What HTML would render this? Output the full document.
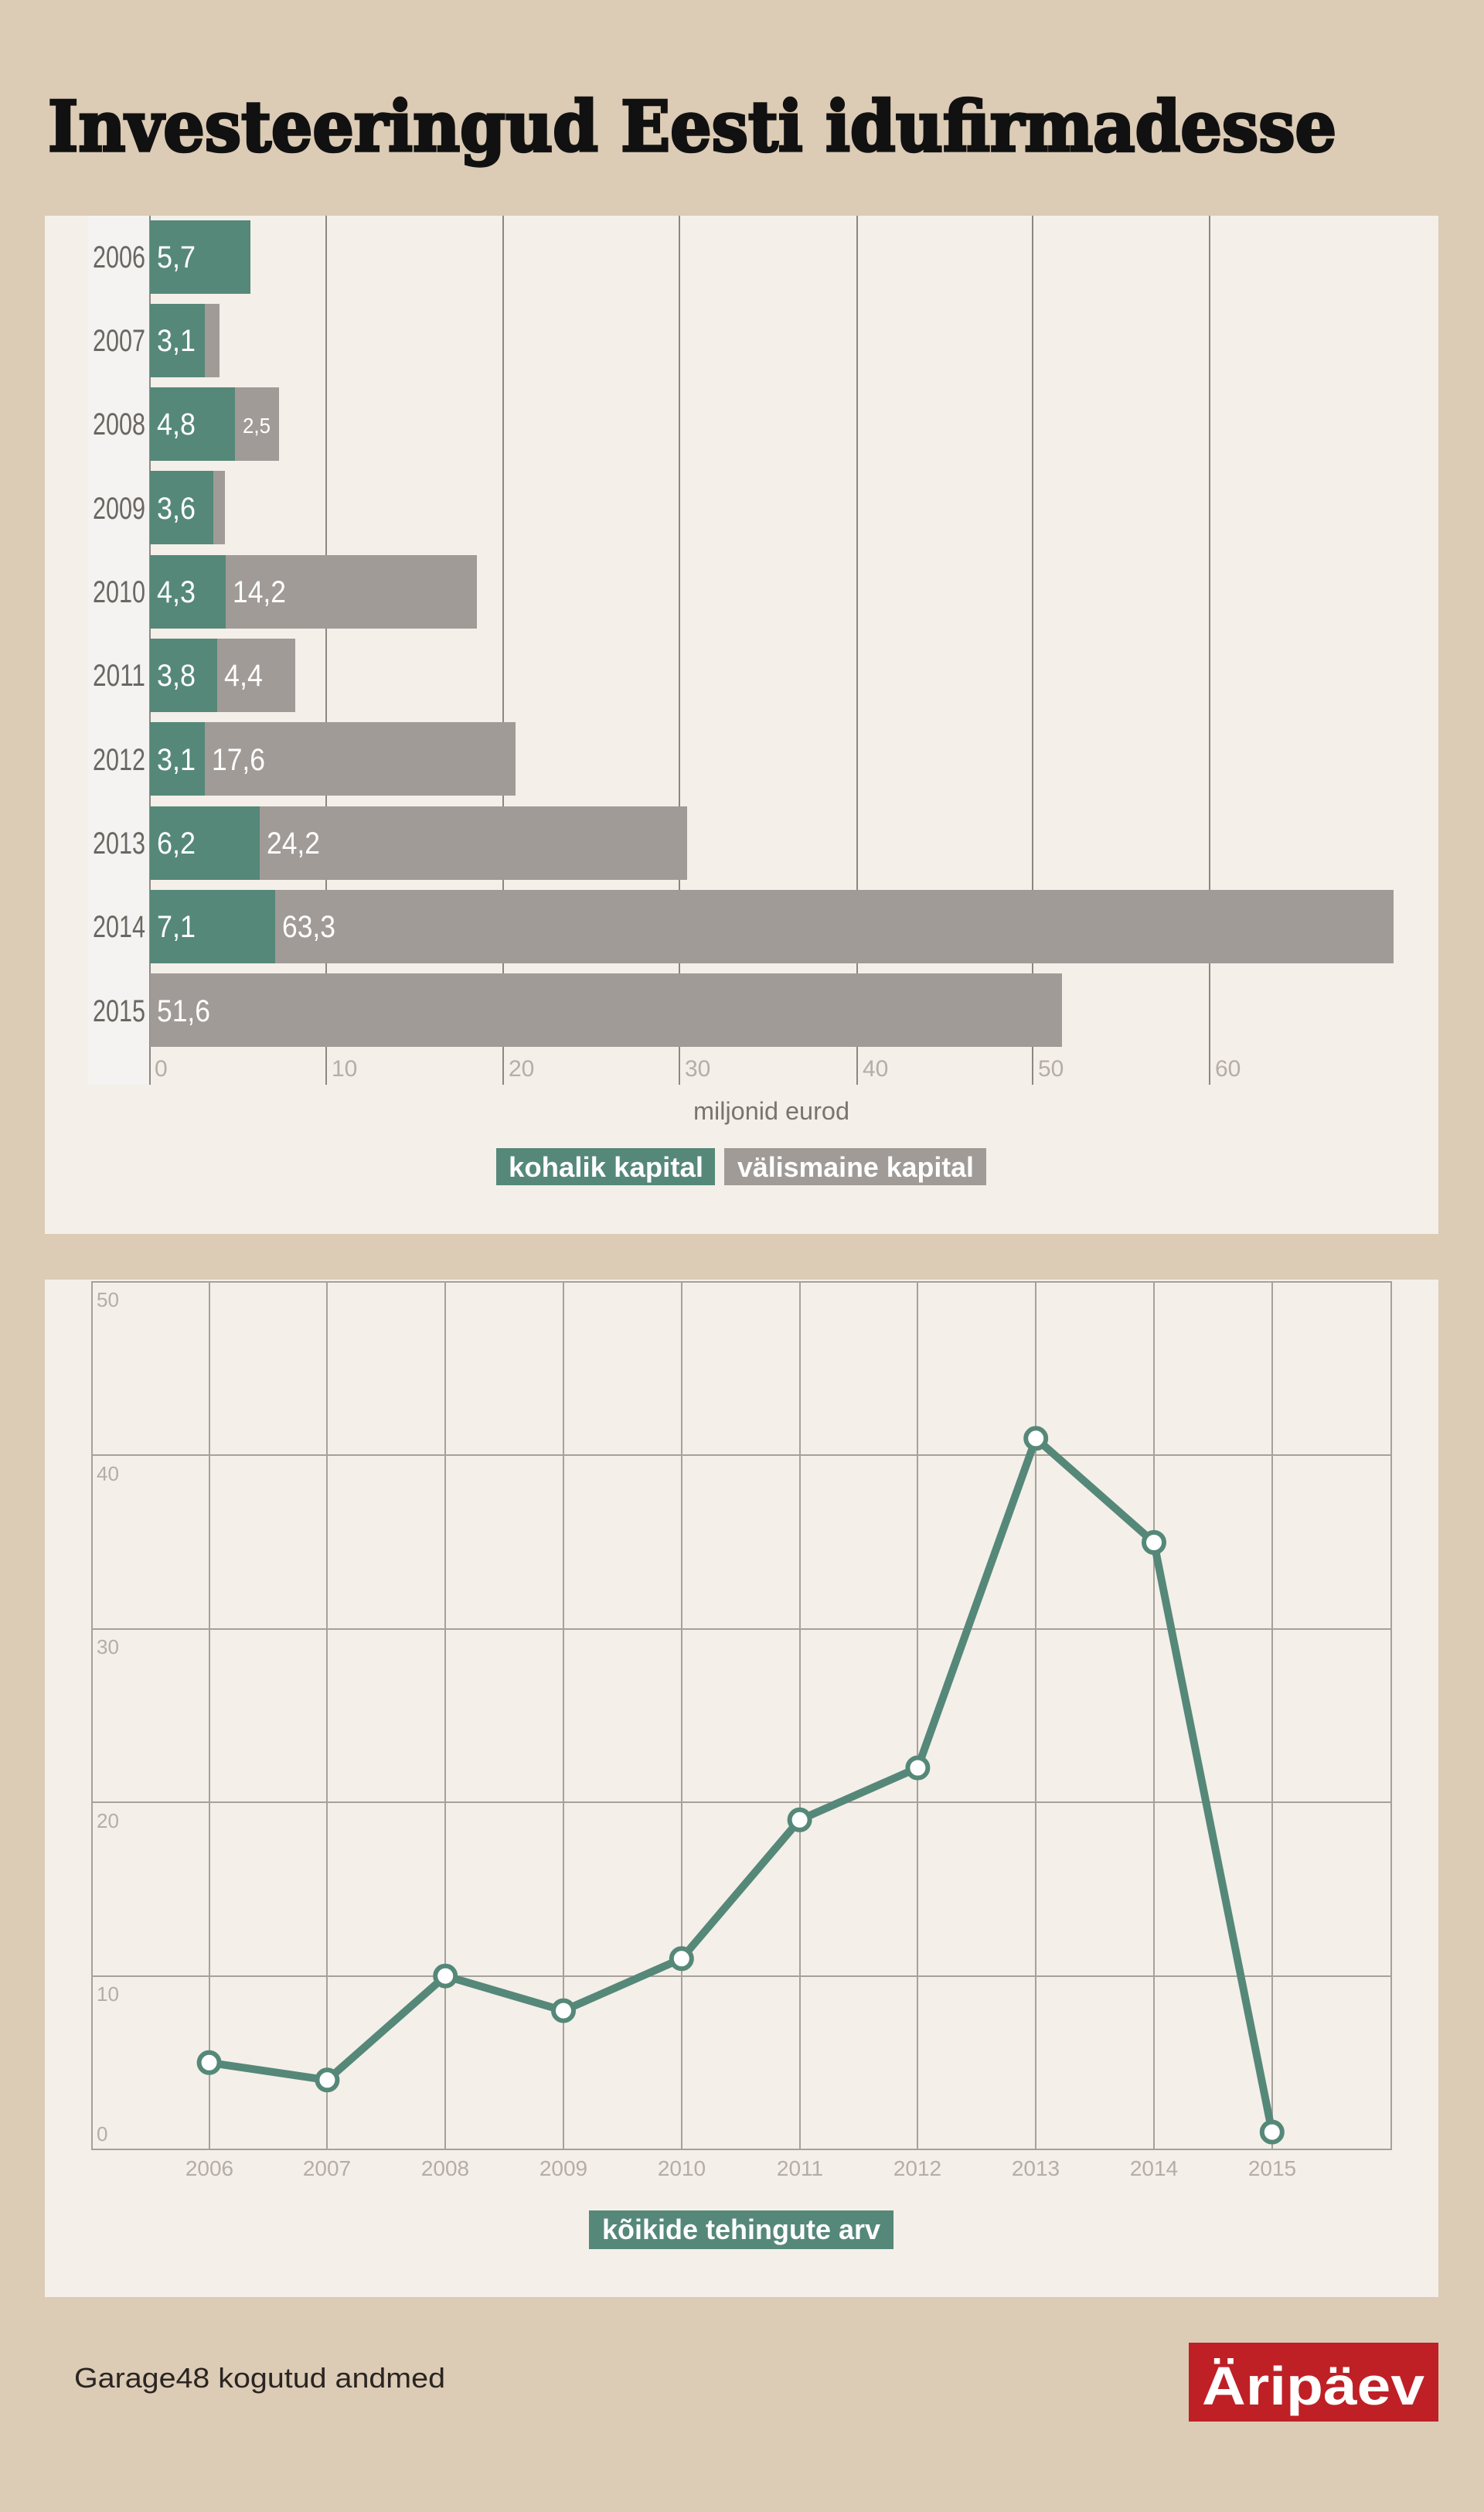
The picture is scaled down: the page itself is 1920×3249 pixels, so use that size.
<!DOCTYPE html>
<html><head><meta charset="utf-8"><style>html,body{margin:0;padding:0;background:#dccbb5}svg{display:block}</style></head>
<body>
<svg xmlns="http://www.w3.org/2000/svg" width="1920" height="3249" viewBox="0 0 1920 3249">
<rect width="1920" height="3249" fill="#dccbb5"/>
<text x="62" y="195" font-family="'DejaVu Serif',serif" font-weight="bold" font-size="90" fill="#111" stroke="#111" stroke-width="3.5" textLength="1667" lengthAdjust="spacingAndGlyphs">Investeeringud Eesti idufirmadesse</text>

<!-- Panel 1 -->
<rect x="58" y="279" width="1803" height="1317" fill="#f4efe9"/>
<rect x="114" y="279" width="80" height="1124" fill="#f4f3f1"/>
<g stroke="#8d8782" stroke-width="2">
<line x1="194" y1="279" x2="194" y2="1403"/>
<line x1="422" y1="279" x2="422" y2="1403"/>
<line x1="651" y1="279" x2="651" y2="1403"/>
<line x1="879" y1="279" x2="879" y2="1403"/>
<line x1="1109" y1="279" x2="1109" y2="1403"/>
<line x1="1336" y1="279" x2="1336" y2="1403"/>
<line x1="1565" y1="279" x2="1565" y2="1403"/>
</g>
<g font-family="'Liberation Sans Narrow','Liberation Sans',sans-serif" font-size="30" fill="#b5ada6">
<text x="200" y="1392">0</text><text x="429" y="1392">10</text><text x="658" y="1392">20</text><text x="886" y="1392">30</text><text x="1116" y="1392">40</text><text x="1343" y="1392">50</text><text x="1572" y="1392">60</text>
</g>
<g fill="#a09b97">
<rect x="194" y="393" width="90" height="95"/>
<rect x="194" y="501" width="167" height="95"/>
<rect x="194" y="609" width="97" height="95"/>
<rect x="194" y="718" width="423" height="95"/>
<rect x="194" y="826" width="188" height="95"/>
<rect x="194" y="934" width="473" height="95"/>
<rect x="194" y="1043" width="695" height="95"/>
<rect x="194" y="1151" width="1609" height="95"/>
<rect x="194" y="1259" width="1180" height="95"/>
</g>
<g fill="#558878">
<rect x="194" y="285" width="130" height="95"/>
<rect x="194" y="393" width="71" height="95"/>
<rect x="194" y="501" width="110" height="95"/>
<rect x="194" y="609" width="82" height="95"/>
<rect x="194" y="718" width="98" height="95"/>
<rect x="194" y="826" width="87" height="95"/>
<rect x="194" y="934" width="71" height="95"/>
<rect x="194" y="1043" width="142" height="95"/>
<rect x="194" y="1151" width="162" height="95"/>
</g>
<g font-family="'Liberation Sans Narrow','Liberation Sans',sans-serif" font-size="40" fill="#6b6662" text-anchor="end">
<text x="188" y="346" textLength="68" lengthAdjust="spacingAndGlyphs">2006</text>
<text x="188" y="454" textLength="68" lengthAdjust="spacingAndGlyphs">2007</text>
<text x="188" y="562" textLength="68" lengthAdjust="spacingAndGlyphs">2008</text>
<text x="188" y="671" textLength="68" lengthAdjust="spacingAndGlyphs">2009</text>
<text x="188" y="779" textLength="68" lengthAdjust="spacingAndGlyphs">2010</text>
<text x="188" y="887" textLength="68" lengthAdjust="spacingAndGlyphs">2011</text>
<text x="188" y="996" textLength="68" lengthAdjust="spacingAndGlyphs">2012</text>
<text x="188" y="1104" textLength="68" lengthAdjust="spacingAndGlyphs">2013</text>
<text x="188" y="1212" textLength="68" lengthAdjust="spacingAndGlyphs">2014</text>
<text x="188" y="1321" textLength="68" lengthAdjust="spacingAndGlyphs">2015</text>
</g>
<g font-family="'Liberation Sans Narrow','Liberation Sans',sans-serif" font-size="40" fill="#fff">
<text x="203" y="346" textLength="50" lengthAdjust="spacingAndGlyphs">5,7</text>
<text x="203" y="454" textLength="50" lengthAdjust="spacingAndGlyphs">3,1</text>
<text x="203" y="562" textLength="50" lengthAdjust="spacingAndGlyphs">4,8</text>
<text x="314" y="560" font-size="28" textLength="36" lengthAdjust="spacingAndGlyphs">2,5</text>
<text x="203" y="671" textLength="50" lengthAdjust="spacingAndGlyphs">3,6</text>
<text x="203" y="779" textLength="50" lengthAdjust="spacingAndGlyphs">4,3</text>
<text x="301" y="779" textLength="69" lengthAdjust="spacingAndGlyphs">14,2</text>
<text x="203" y="887" textLength="50" lengthAdjust="spacingAndGlyphs">3,8</text>
<text x="290" y="887" textLength="50" lengthAdjust="spacingAndGlyphs">4,4</text>
<text x="203" y="996" textLength="50" lengthAdjust="spacingAndGlyphs">3,1</text>
<text x="274" y="996" textLength="69" lengthAdjust="spacingAndGlyphs">17,6</text>
<text x="203" y="1104" textLength="50" lengthAdjust="spacingAndGlyphs">6,2</text>
<text x="345" y="1104" textLength="69" lengthAdjust="spacingAndGlyphs">24,2</text>
<text x="203" y="1212" textLength="50" lengthAdjust="spacingAndGlyphs">7,1</text>
<text x="365" y="1212" textLength="69" lengthAdjust="spacingAndGlyphs">63,3</text>
<text x="203" y="1321" textLength="69" lengthAdjust="spacingAndGlyphs">51,6</text>
</g>
<text x="998" y="1448" text-anchor="middle" font-family="'Liberation Sans Narrow','Liberation Sans',sans-serif" font-size="32" fill="#7a7470" textLength="202" lengthAdjust="spacingAndGlyphs">miljonid eurod</text>
<rect x="642" y="1485" width="283" height="48" fill="#558878"/>
<rect x="937" y="1485" width="339" height="48" fill="#a09b97"/>
<g font-family="'Liberation Sans Narrow','Liberation Sans',sans-serif" font-size="36" font-weight="bold" fill="#fff">
<text x="658" y="1522" textLength="252" lengthAdjust="spacingAndGlyphs">kohalik kapital</text>
<text x="954" y="1522" textLength="306" lengthAdjust="spacingAndGlyphs">välismaine kapital</text>
</g>

<!-- Panel 2 -->
<rect x="58" y="1655" width="1803" height="1316" fill="#f4efe9"/>
<g stroke="#a7a19c" stroke-width="2" fill="none">
<line x1="119" y1="1882" x2="1800" y2="1882"/>
<line x1="119" y1="2107" x2="1800" y2="2107"/>
<line x1="119" y1="2331" x2="1800" y2="2331"/>
<line x1="119" y1="2556" x2="1800" y2="2556"/>
<line x1="271" y1="1658" x2="271" y2="2780"/>
<line x1="423" y1="1658" x2="423" y2="2780"/>
<line x1="576" y1="1658" x2="576" y2="2780"/>
<line x1="729" y1="1658" x2="729" y2="2780"/>
<line x1="882" y1="1658" x2="882" y2="2780"/>
<line x1="1035" y1="1658" x2="1035" y2="2780"/>
<line x1="1187" y1="1658" x2="1187" y2="2780"/>
<line x1="1340" y1="1658" x2="1340" y2="2780"/>
<line x1="1493" y1="1658" x2="1493" y2="2780"/>
<line x1="1646" y1="1658" x2="1646" y2="2780"/>
<rect x="119" y="1658" width="1681" height="1122"/>
</g>
<g font-family="'Liberation Sans',sans-serif" font-size="26" fill="#b5ada6">
<text x="125" y="1690">50</text><text x="125" y="1915">40</text><text x="125" y="2139">30</text><text x="125" y="2364">20</text><text x="125" y="2588">10</text><text x="125" y="2769">0</text>
</g>
<g font-family="'Liberation Sans',sans-serif" font-size="28" fill="#b5ada6" text-anchor="middle">
<text x="271" y="2814">2006</text><text x="423" y="2814">2007</text><text x="576" y="2814">2008</text><text x="729" y="2814">2009</text><text x="882" y="2814">2010</text><text x="1035" y="2814">2011</text><text x="1187" y="2814">2012</text><text x="1340" y="2814">2013</text><text x="1493" y="2814">2014</text><text x="1646" y="2814">2015</text>
</g>
<polyline fill="none" stroke="#558878" stroke-width="10" stroke-linejoin="round" points="270.6,2667.8 423.4,2690.3 576.2,2555.7 729,2600.6 881.8,2533.3 1034.6,2353.8 1187.4,2286.5 1340.2,1860.4 1493,1995 1645.8,2757.6"/>
<g fill="#fff" stroke="#558878" stroke-width="6">
<circle cx="270.6" cy="2667.8" r="13"/><circle cx="423.4" cy="2690.3" r="13"/><circle cx="576.2" cy="2555.7" r="13"/><circle cx="729" cy="2600.6" r="13"/><circle cx="881.8" cy="2533.3" r="13"/><circle cx="1034.6" cy="2353.8" r="13"/><circle cx="1187.4" cy="2286.5" r="13"/><circle cx="1340.2" cy="1860.4" r="13"/><circle cx="1493" cy="1995" r="13"/><circle cx="1645.8" cy="2757.6" r="13"/>
</g>
<rect x="762" y="2859" width="394" height="50" fill="#558878"/>
<text x="779" y="2896" font-family="'Liberation Sans Narrow','Liberation Sans',sans-serif" font-size="36" font-weight="bold" fill="#fff" textLength="360" lengthAdjust="spacingAndGlyphs">kõikide tehingute arv</text>

<!-- Footer -->
<text x="96" y="3088" font-family="'Liberation Sans',sans-serif" font-size="36" fill="#2a2522" textLength="480" lengthAdjust="spacingAndGlyphs">Garage48 kogutud andmed</text>
<rect x="1538" y="3030" width="323" height="102" fill="#be2026"/>
<text x="1555" y="3110" font-family="'Liberation Sans',sans-serif" font-size="70" font-weight="bold" fill="#fff" textLength="288" lengthAdjust="spacingAndGlyphs">Äripäev</text>
</svg>
</body></html>
